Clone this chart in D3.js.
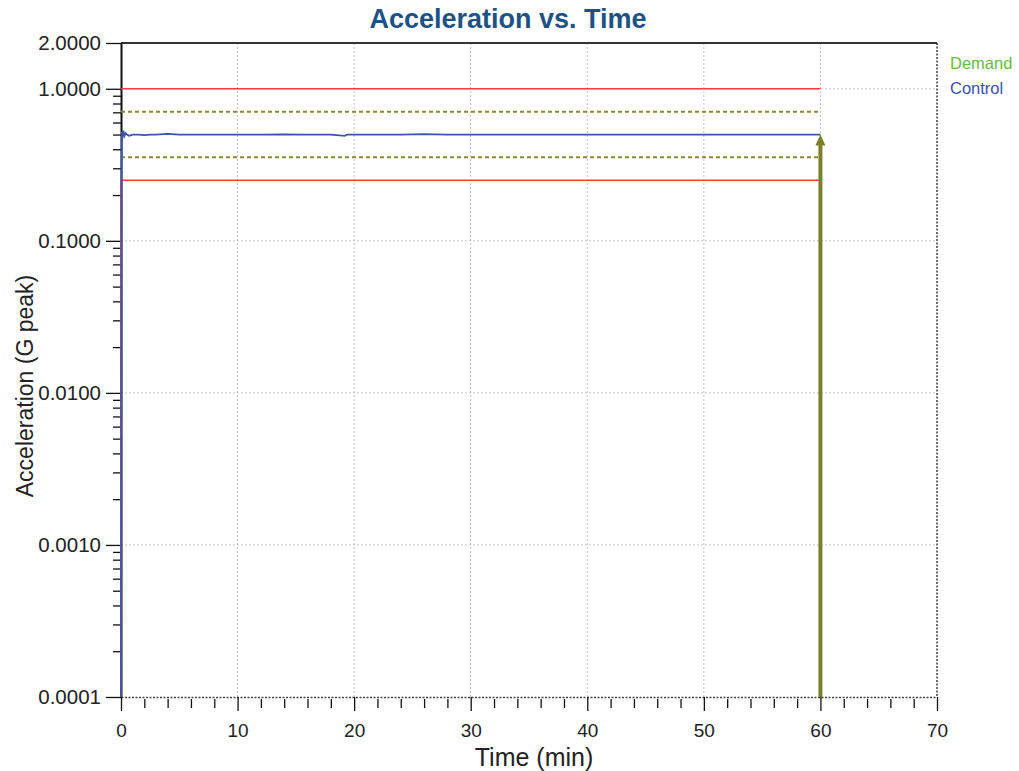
<!DOCTYPE html>
<html><head><meta charset="utf-8">
<script src="https://cdn.jsdelivr.net/npm/d3@7"></script>
<style>body{margin:0;background:#fff}svg{display:block}</style>
</head><body>
<script>
const title = "Acceleration vs. Time";
const xTicks = [0,10,20,30,40,50,60,70];
const yTickLabels = [0.0001,0.001,0.01,0.1,1,2];
const demandLevel = 0.5;
const tolUpper = 0.707, tolLower = 0.354;
const abortUpper = 1.0, abortLower = 0.25;
const testEnd = 60;
const controlTime = [0,0.05,0.08,0.12,0.2,0.3,0.4,0.5,0.7,1,1.5,2,2.5,3,4,5,6,8,10,12,14,16,18,19.2,19.4,20,22,24,26,28,30,32,34,36,38,40,42,44,46,48,50,52,54,56,58,60];
const controlVal = [0.0001,0.3,0.52,0.47,0.53,0.49,0.51,0.5,0.49,0.5,0.5,0.495,0.5,0.5,0.505,0.5,0.5,0.5,0.5,0.5,0.502,0.5,0.5,0.49,0.5,0.5,0.5,0.5,0.503,0.5,0.5,0.5,0.5,0.5,0.5,0.5,0.5,0.5,0.5,0.5,0.5,0.5,0.5,0.5,0.5,0.5];
const legendItems = [{name:"Demand",color:"#66bb44"},{name:"Control",color:"#3a50aa"}];

const W=1019,H=771, L=121,R=937,T=43,B=697;
const FF="'Liberation Sans',Arial,sans-serif";
const svg=d3.select("body").append("svg").attr("width",W).attr("height",H).style("font-family",FF);
const x=d3.scaleLinear().domain([0,70]).range([L,R]);
const y=d3.scaleLog().domain([0.0001,2]).range([B,T]);

// grid
const g=svg.append("g");
g.selectAll(".gx").data(xTicks.filter(d=>d>0&&d<70)).join("line").attr("x1",d=>x(d)).attr("x2",d=>x(d)).attr("y1",T).attr("y2",B).attr("stroke","#c4c4c4").attr("stroke-dasharray","2,2");
g.selectAll(".gy").data([0.001,0.01,0.1,1]).join("line").attr("x1",L).attr("x2",R).attr("y1",d=>y(d)).attr("y2",d=>y(d)).attr("stroke","#c4c4c4").attr("stroke-dasharray","2,2");

// borders
svg.append("line").attr("x1",L).attr("x2",R).attr("y1",T).attr("y2",T).attr("stroke","#333").attr("stroke-width",2);
svg.append("line").attr("x1",R).attr("x2",R).attr("y1",T).attr("y2",B).attr("stroke","#222").attr("stroke-dasharray","2,1.5").attr("stroke-width",1.3);

// x axis
const xAxis=d3.axisBottom(x).tickValues(xTicks).tickSize(14).tickSizeOuter(0).tickFormat(d3.format("d"));
const xa=svg.append("g").attr("transform",`translate(0,${B})`).call(xAxis);
xa.select(".domain").attr("stroke","#444").attr("stroke-dasharray","2,1.5").attr("stroke-width",1.5);
xa.selectAll(".tick line").attr("stroke","#111").attr("stroke-width",1.3);
xa.selectAll(".tick text").attr("font-size",19).attr("fill","#222").attr("dy","1.2em").attr("font-family",FF);
const xMinor=d3.range(0,71,2).filter(d=>d%10!==0);
svg.append("g").attr("transform",`translate(0,${B})`).call(d3.axisBottom(x).tickValues(xMinor).tickSize(9).tickFormat(""))
  .call(s=>s.select(".domain").remove()).selectAll(".tick line").attr("stroke","#111").attr("stroke-width",1.3).attr("transform","translate(0,2)");

// y axis
const ya=svg.append("g").attr("transform",`translate(${L},0)`).call(d3.axisLeft(y).tickValues(yTickLabels).tickSize(15).tickSizeOuter(0).tickFormat(d3.format(".4f")));
ya.select(".domain").attr("stroke","#111").attr("stroke-width",2);
ya.selectAll(".tick line").attr("stroke","#111").attr("stroke-width",1.3);
ya.selectAll(".tick text").attr("font-size",20.5).attr("fill","#222").attr("dx","-0.1em").attr("font-family",FF);
const yMinor=[];
[0.0001,0.001,0.01,0.1].forEach(dec=>{for(let k=2;k<=9;k++)yMinor.push(dec*k);});
svg.append("g").attr("transform",`translate(${L},0)`).call(d3.axisLeft(y).tickValues(yMinor).tickSize(8).tickFormat(""))
  .call(s=>s.select(".domain").remove()).selectAll(".tick line").attr("stroke","#111").attr("stroke-width",1.3);

// limit lines
const line=d3.line().x(d=>x(d[0])).y(d=>y(d[1]));
svg.append("path").attr("d",line([[0,abortUpper],[testEnd,abortUpper]])).attr("fill","none").attr("stroke","#ff3a3a").attr("stroke-width",1.5);
svg.append("path").attr("d",line([[0,0.0001],[0,abortLower],[testEnd,abortLower]])).attr("fill","none").attr("stroke","#ff3a3a").attr("stroke-width",1.5);
[tolUpper,tolLower].forEach(v=>svg.append("path").attr("d",line([[0,v],[testEnd,v]])).attr("fill","none").attr("stroke","#8a8a30").attr("stroke-width",2).attr("stroke-dasharray","4,3"));

// control
svg.append("path").attr("d",line(controlTime.map((t,i)=>[t,controlVal[i]]))).attr("fill","none").attr("stroke","#3a55aa").attr("stroke-width",1.8);

// arrow
svg.append("line").attr("x1",x(testEnd)).attr("x2",x(testEnd)).attr("y1",B).attr("y2",y(demandLevel)+8).attr("stroke","#7a7f2a").attr("stroke-width",4);
svg.append("path").attr("d",`M${x(testEnd)-5},${y(demandLevel)+11} L${x(testEnd)},${y(demandLevel)} L${x(testEnd)+5},${y(demandLevel)+11} Z`).attr("fill","#7a7f2a");

// legend
legendItems.forEach((d,i)=>svg.append("text").attr("x",950).attr("y",69+i*25).attr("font-size",16.5).attr("fill",d.color).text(d.name));

// titles
svg.append("text").attr("x",508).attr("y",28).attr("text-anchor","middle").attr("font-size",27).attr("font-weight","bold").attr("fill","#1d5284").text(title);
svg.append("text").attr("x",534).attr("y",766).attr("text-anchor","middle").attr("font-size",25).attr("fill","#222").text("Time (min)");
svg.append("text").attr("transform","translate(33,386) rotate(-90)").attr("text-anchor","middle").attr("font-size",23).attr("fill","#222").text("Acceleration (G peak)");
</script>
</body></html>
